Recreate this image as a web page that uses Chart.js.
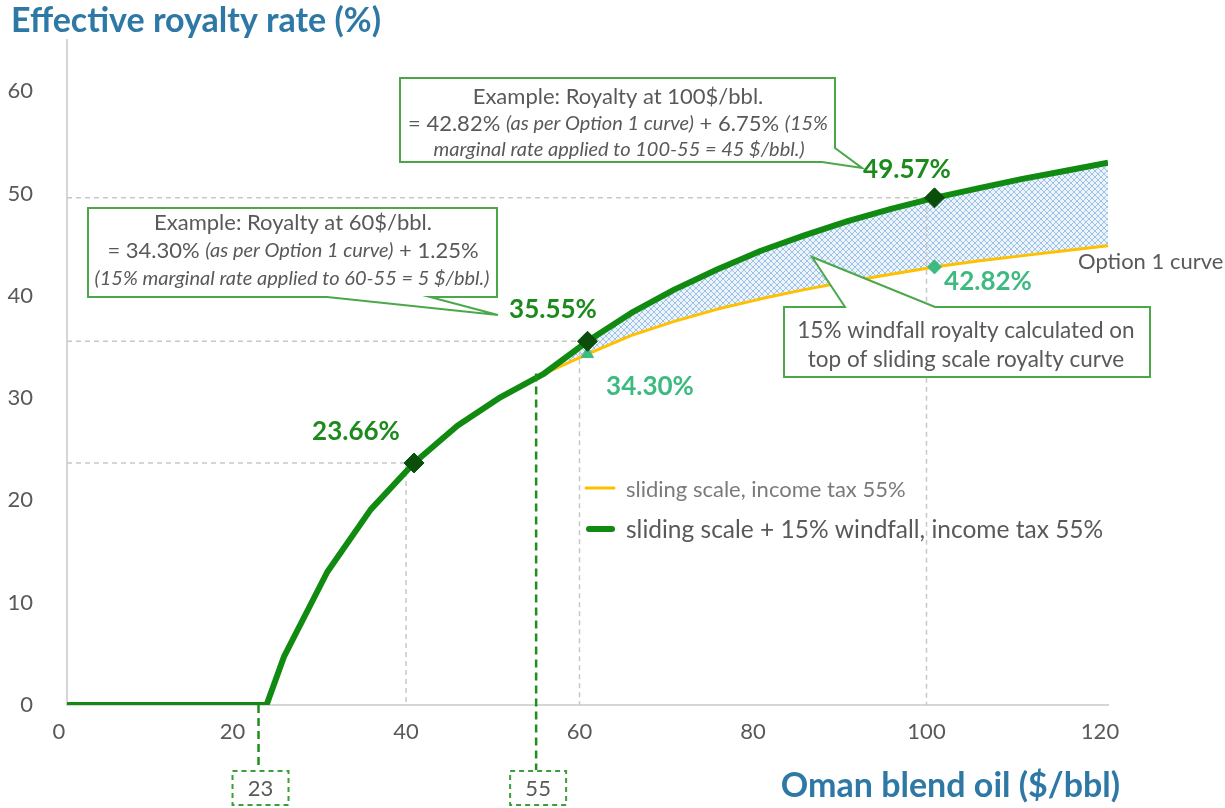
<!DOCTYPE html>
<html>
<head>
<meta charset="utf-8">
<script src="https://cdn.jsdelivr.net/npm/chart.js@4.4.1/dist/chart.umd.min.js"></script>
<style>
  html, body { margin: 0; padding: 0; background: #fff; }
  #wrap { width: 1225px; height: 808px; }
</style>
</head>
<body>
<div id="wrap"><canvas id="royaltyChart" width="1225" height="808"></canvas></div>
<script>
// Oil price ($/bbl) and effective royalty rate (%)
const priceUsdBbl = [0, 5, 10, 15, 20, 23, 25, 30, 35, 40, 45, 50, 55, 60, 65, 70, 75, 80, 85, 90, 95, 100, 105, 110, 115, 120];
const windfallRate = [0, 0, 0, 0, 0, 0, 4.7, 13.0, 19.1, 23.66, 27.3, 30.1, 32.4, 35.55, 38.3, 40.6, 42.6, 44.4, 45.9, 47.3, 48.5, 49.57, 50.5, 51.4, 52.2, 53.0];
const slidingRate = [0, 0, 0, 0, 0, 0, 4.7, 13.0, 19.1, 23.66, 27.3, 30.1, 32.4, 34.30, 36.1, 37.5, 38.7, 39.7, 40.6, 41.4, 42.1, 42.82, 43.4, 43.9, 44.4, 44.9];

// highlighted points
const keyPriceX = [40, 60, 100];
const keyWindfall = [23.66, 35.55, 49.57];
const option1PriceX = [60, 100];
const option1Rate = [34.30, 42.82];

const xTicks = [0, 20, 40, 60, 80, 100, 120];
const thresholdPrices = [23, 55];

const seriesNames = ["sliding scale, income tax 55%", "sliding scale + 15% windfall, income tax 55%"];

const FONT = 'Lato, "Open Sans", sans-serif';
const GREEN = "#108a10";
const DARK_GREEN = "#0b4d0b";
const TEAL = "#3dba7f";
const YELLOW = "#ffc000";
const BLUE = "#2e78a6";
const GREY = "#595959";
const LABEL_SHIFT = -8; // reference tick labels sit a bit left of the data grid

function toPoints(xs, ys) {
  return xs.map((x, i) => ({ x, y: ys[i] }));
}

function hatchPattern() {
  const c = document.createElement("canvas");
  c.width = 6;
  c.height = 6;
  const g = c.getContext("2d");
  g.fillStyle = "rgba(200,222,243,0.35)";
  g.fillRect(0, 0, 6, 6);
  g.strokeStyle = "#9cc2e6";
  g.lineWidth = 1;
  g.beginPath();
  g.moveTo(0, 0); g.lineTo(6, 6);
  g.moveTo(6, 0); g.lineTo(0, 6);
  g.stroke();
  return g.createPattern(c, "repeat");
}

function drawRich(ctx, parts, cx, y) {
  let total = 0;
  parts.forEach((p) => {
    ctx.font = p.font;
    total += ctx.measureText(p.t).width;
  });
  let x = cx - total / 2;
  ctx.textAlign = "left";
  parts.forEach((p) => {
    ctx.font = p.font;
    ctx.fillText(p.t, x, y);
    x += ctx.measureText(p.t).width;
  });
}

function callout(ctx, pts) {
  ctx.save();
  ctx.beginPath();
  ctx.moveTo(pts[0][0], pts[0][1]);
  for (let i = 1; i < pts.length; i++) ctx.lineTo(pts[i][0], pts[i][1]);
  ctx.closePath();
  ctx.fillStyle = "#fff";
  ctx.fill();
  ctx.strokeStyle = "#4aa84a";
  ctx.lineWidth = 2;
  ctx.stroke();
  ctx.restore();
}

const NORMAL = "22px " + FONT;
const ITALIC = "italic 20px " + FONT;

const annotations = {
  id: "annotations",
  beforeDatasetsDraw(chart) {
    const { ctx, scales: { x, y } } = chart;
    ctx.save();
    ctx.setLineDash([5, 4]);
    ctx.strokeStyle = "#c8c8c8";
    ctx.lineWidth = 1.5;
    keyPriceX.forEach((p, i) => {
      const px = x.getPixelForValue(p);
      const py = y.getPixelForValue(keyWindfall[i]);
      ctx.beginPath();
      ctx.moveTo(x.left, py);
      ctx.lineTo(px, py);
      ctx.moveTo(px + LABEL_SHIFT, py);
      ctx.lineTo(px + LABEL_SHIFT, y.bottom);
      ctx.stroke();
    });
    ctx.restore();
  },
  afterDatasetsDraw(chart) {
    const { ctx, scales: { x, y } } = chart;
    ctx.save();
    ctx.textBaseline = "middle";

    // value labels
    ctx.font = "bold 26px " + FONT;
    ctx.textAlign = "center";
    ctx.fillStyle = "#1c8a1c";
    ctx.fillText("49.57%", 907, 170);
    ctx.fillText("35.55%", 553, 310);
    ctx.fillText("23.66%", 356, 432);
    ctx.fillStyle = TEAL;
    ctx.fillText("34.30%", 650, 387);
    ctx.fillText("42.82%", 988, 282);

    ctx.font = "22px " + FONT;
    ctx.fillStyle = GREY;
    ctx.textAlign = "left";
    ctx.fillText("Option 1 curve", 1078, 262);

    // callout: 100 $/bbl example
    callout(ctx, [[400, 78], [835, 78], [835, 148], [862, 168], [822, 162], [400, 162]]);
    ctx.fillStyle = GREY;
    drawRich(ctx, [{ t: "Example: Royalty at 100$/bbl.", font: NORMAL }], 618, 97);
    drawRich(ctx, [
      { t: "= 42.82% ", font: NORMAL },
      { t: "(as per Option 1 curve)", font: ITALIC },
      { t: " + 6.75% ", font: NORMAL },
      { t: "(15%", font: ITALIC }
    ], 618, 124);
    drawRich(ctx, [{ t: "marginal rate applied to 100-55 = 45 $/bbl.)", font: ITALIC }], 619, 150);

    // callout: 60 $/bbl example
    callout(ctx, [[88, 208], [497, 208], [497, 297], [430, 297], [498, 315], [327, 297], [88, 297]]);
    ctx.fillStyle = GREY;
    drawRich(ctx, [{ t: "Example: Royalty at 60$/bbl.", font: NORMAL }], 293, 223);
    drawRich(ctx, [
      { t: "= 34.30% ", font: NORMAL },
      { t: "(as per Option 1 curve)", font: ITALIC },
      { t: " + 1.25%", font: NORMAL }
    ], 293, 251);
    drawRich(ctx, [{ t: "(15% marginal rate applied to 60-55 = 5 $/bbl.)", font: ITALIC }], 292, 279);

    // callout: windfall band
    callout(ctx, [[784, 307], [845, 307], [812, 257], [935, 307], [1150, 307], [1150, 377], [784, 377]]);
    ctx.fillStyle = GREY;
    drawRich(ctx, [{ t: "15% windfall royalty calculated on", font: "22.5px " + FONT }], 966, 331);
    drawRich(ctx, [{ t: "top of sliding scale royalty curve", font: "22.5px " + FONT }], 966, 360);

    // legend
    ctx.lineCap = "round";
    ctx.strokeStyle = YELLOW;
    ctx.lineWidth = 3;
    ctx.beginPath(); ctx.moveTo(586, 488); ctx.lineTo(614, 488); ctx.stroke();
    ctx.strokeStyle = GREEN;
    ctx.lineWidth = 6;
    ctx.beginPath(); ctx.moveTo(589, 529); ctx.lineTo(612, 529); ctx.stroke();
    ctx.textAlign = "left";
    ctx.fillStyle = "#7a7a7a";
    ctx.font = "22px " + FONT;
    ctx.fillText(seriesNames[0], 626, 490);
    ctx.fillStyle = GREY;
    ctx.font = "24.5px " + FONT;
    ctx.fillText(seriesNames[1], 626, 530);

    // threshold markers below the x axis
    thresholdPrices.forEach((p, i) => {
      const px = x.getPixelForValue(p) + LABEL_SHIFT;
      const top = i === 0 ? y.bottom : y.getPixelForValue(windfallRate[priceUsdBbl.indexOf(p)]);
      ctx.setLineDash([8, 5]);
      ctx.lineCap = "butt";
      ctx.strokeStyle = "#1d8f1d";
      ctx.lineWidth = 2.5;
      ctx.beginPath(); ctx.moveTo(px, top); ctx.lineTo(px, 770); ctx.stroke();
      ctx.setLineDash([5, 4]);
      ctx.lineWidth = 2;
      ctx.strokeStyle = "#3a9e3a";
      ctx.strokeRect(px - 26, 771, 56, 34);
      ctx.setLineDash([]);
      ctx.fillStyle = GREY;
      ctx.font = "22px " + FONT;
      ctx.textAlign = "center";
      ctx.fillText(String(p), px + 2, 789);
    });

    // axis titles
    ctx.fillStyle = BLUE;
    ctx.font = "bold 34px " + FONT;
    ctx.textAlign = "left";
    ctx.fillText("Effective royalty rate (%)", 11, 21);
    ctx.textAlign = "right";
    ctx.fillText("Oman blend oil ($/bbl)", 1120, 786);
    ctx.restore();
  }
};

const ctx = document.getElementById("royaltyChart");
new Chart(ctx, {
  type: "line",
  data: {
    datasets: [
      {
        label: "key points",
        data: toPoints(keyPriceX, keyWindfall),
        showLine: false,
        pointStyle: "rectRot",
        pointRadius: 10,
        pointBackgroundColor: DARK_GREEN,
        pointBorderColor: DARK_GREEN
      },
      {
        label: "Option 1 points",
        data: toPoints(option1PriceX, option1Rate),
        showLine: false,
        pointStyle: ["triangle", "rectRot"],
        pointRadius: 7,
        pointBackgroundColor: TEAL,
        pointBorderColor: TEAL
      },
      {
        label: seriesNames[1],
        data: toPoints(priceUsdBbl, windfallRate),
        borderColor: GREEN,
        borderWidth: 6,
        borderJoinStyle: "round",
        pointRadius: 0,
        tension: 0,
        fill: { target: 3, above: hatchPattern(), below: "rgba(0,0,0,0)" }
      },
      {
        label: seriesNames[0],
        data: toPoints(priceUsdBbl, slidingRate),
        borderColor: YELLOW,
        borderWidth: 3,
        borderJoinStyle: "round",
        pointRadius: 0,
        tension: 0,
        fill: false
      }
    ]
  },
  options: {
    responsive: false,
    animation: false,
    events: [],
    layout: { padding: { top: 40, right: 117, left: 0, bottom: 0 } },
    plugins: {
      legend: { display: false },
      tooltip: { enabled: false },
      filler: { drawTime: "beforeDatasetsDraw" }
    },
    scales: {
      x: {
        type: "linear",
        min: 0,
        max: 120,
        afterFit: (s) => { s.height = 103; },
        afterBuildTicks: (s) => { s.ticks = xTicks.map((v) => ({ value: v })); },
        grid: { display: false },
        border: { display: true, color: "#d6d6d6", width: 2 },
        ticks: { color: GREY, font: { family: FONT, size: 22 }, padding: 6, labelOffset: LABEL_SHIFT }
      },
      y: {
        min: 0,
        max: 65,
        afterFit: (s) => { s.width = 67; },
        grid: { display: false },
        border: { display: true, color: "#d6d6d6", width: 2 },
        ticks: { stepSize: 10, includeBounds: false, color: GREY, font: { family: FONT, size: 22 }, padding: 26 }
      }
    }
  },
  plugins: [annotations]
});
</script>
</body>
</html>
